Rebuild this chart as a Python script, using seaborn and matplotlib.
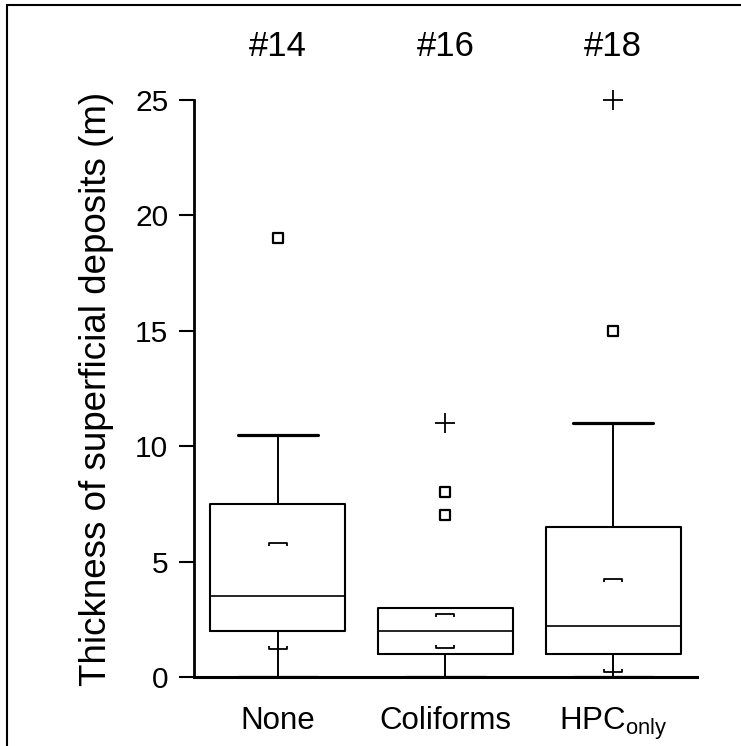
import matplotlib
matplotlib.use("Agg")
import matplotlib.pyplot as plt
from matplotlib.path import Path
from matplotlib.patches import Rectangle
from matplotlib.transforms import blended_transform_factory
import seaborn as sns
import pandas as pd

# Groups and summary statistics (m)
categories = ["None", "Coliforms", "HPC$_{\\mathregular{only}}$"]
site_labels = ["#14", "#16", "#18"]
q1 = [2.0, 1.0, 1.0]
median = [3.5, 2.0, 2.2]
q3 = [7.5, 3.0, 6.5]
whisker_low = [0.0, 0.0, 0.0]
whisker_high = [10.5, 3.0, 11.0]
mean = [5.8, 2.75, 4.25]
low_pct = [1.2, 1.25, 0.2]

# Outlying values: squares (outliers) and plus signs (extremes)
outlier_group = [0, 1, 1, 2]
outlier_value = [19.0, 7.0, 8.0, 15.0]
extreme_group = [1, 2]
extreme_value = [11.0, 25.0]

sns.set_theme(style="ticks")
plt.rcParams["font.family"] = ["Liberation Sans", "DejaVu Sans"]
plt.rcParams["mathtext.fontset"] = "custom"
plt.rcParams["mathtext.rm"] = "Liberation Sans"
for key in ["text.color", "axes.labelcolor", "xtick.color", "ytick.color",
            "axes.edgecolor"]:
    plt.rcParams[key] = "black"

fig = plt.figure(figsize=(7.41, 7.46), dpi=100)
ax = fig.add_axes([194 / 741, 69 / 746, (697 - 194) / 741, (677 - 100) / 746])

stats = []
for i in range(len(categories)):
    stats.append(dict(q1=q1[i], med=median[i], q3=q3[i],
                      whislo=whisker_low[i], whishi=whisker_high[i],
                      fliers=[], label=categories[i]))

parts = ax.bxp(stats, positions=range(len(categories)), widths=0.805,
               showfliers=False, patch_artist=False,
               boxprops=dict(color="black", linewidth=1.5),
               medianprops=dict(color="black", linewidth=1.2),
               whiskerprops=dict(color="black", linewidth=1.4),
               capprops=dict(color="black", linewidth=2.3),
               capwidths=0.48)

# no cap where the upper whisker coincides with the box edge
for i in range(len(categories)):
    if whisker_high[i] <= q3[i]:
        parts["caps"][2 * i + 1].set_visible(False)

# bracket-shaped markers for mean and lower percentile
cap_down = Path([(-1, -0.35), (-1, 0), (1, 0), (1, -0.35)],
                [Path.MOVETO, Path.LINETO, Path.LINETO, Path.LINETO])
cap_up = Path([(-1, 0.35), (-1, 0), (1, 0), (1, 0.35)],
              [Path.MOVETO, Path.LINETO, Path.LINETO, Path.LINETO])

pos = list(range(len(categories)))
ax.plot(pos, mean, linestyle="none", marker=cap_down, markersize=13.5,
        markerfacecolor="none", markeredgecolor="black", markeredgewidth=1.3)
ax.plot(pos, low_pct, linestyle="none", marker=cap_up, markersize=13.5,
        markerfacecolor="none", markeredgecolor="black", markeredgewidth=1.3)

df_out = pd.DataFrame({"group": outlier_group, "value": outlier_value})
df_ext = pd.DataFrame({"group": extreme_group, "value": extreme_value})
sns.scatterplot(data=df_out, x="group", y="value", marker="s", s=45,
                facecolor="white", edgecolor="black", linewidth=1.6,
                ax=ax, clip_on=False, zorder=5)
sns.scatterplot(data=df_ext, x="group", y="value", marker="+", s=200,
                color="black", linewidth=1.3, ax=ax, clip_on=False, zorder=5)

ax.set_xlim(-0.5, 2.5)
ax.set_ylim(0, 25)
ax.set_yticks([0, 5, 10, 15, 20, 25])
ax.set_xticks(pos)
ax.set_xticklabels(categories, fontsize=22.5)
ax.tick_params(axis="x", length=0, pad=21)
ax.tick_params(axis="y", length=10.5, width=1.5, labelsize=21.5, pad=8,
               direction="out")
ax.set_xlabel("")
ax.set_ylabel("Thickness of superficial deposits (m)", fontsize=26.5,
              labelpad=15)

for side in ["top", "right"]:
    ax.spines[side].set_visible(False)
ax.spines["left"].set_linewidth(2.0)
ax.spines["bottom"].set_linewidth(2.2)

trans = blended_transform_factory(ax.transData, ax.transAxes)
for i, lab in enumerate(site_labels):
    ax.text(i, 1.092, lab, transform=trans, ha="center", va="center",
            fontsize=25, clip_on=False)

# outer frame around the figure
fig.add_artist(Rectangle((7 / 741, -0.1), 1.2, (746 - 5) / 746 + 0.1,
                         transform=fig.transFigure, fill=False,
                         edgecolor="black", linewidth=1.5))

fig.savefig("out.png", dpi=100)
